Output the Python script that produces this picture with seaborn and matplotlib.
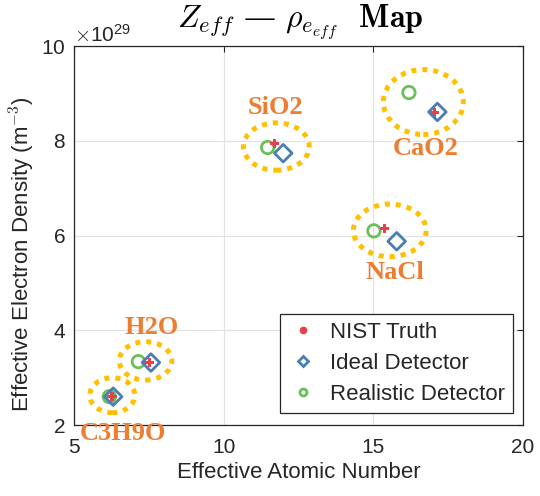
import numpy as np
import pandas as pd
import matplotlib
matplotlib.use("Agg")
import matplotlib.pyplot as plt
from matplotlib.patches import Ellipse
from matplotlib.lines import Line2D
import seaborn as sns

# ---- data (rho in units of 1e29 m^-3) ----
materials = ["C3H9O", "H2O", "SiO2", "CaO2", "NaCl"]
nist_z = [6.27, 7.51, 11.69, 17.03, 15.37]
nist_rho = [2.60, 3.32, 7.95, 8.59, 6.15]
ideal_z = [6.31, 7.57, 11.99, 17.14, 15.78]
ideal_rho = [2.60, 3.32, 7.74, 8.61, 5.88]
real_z = [6.18, 7.15, 11.47, 16.19, 15.02]
real_rho = [2.60, 3.34, 7.86, 9.02, 6.10]
scale = 1e29

# highlight ellipses: center z, center rho, width (z), height (rho)
ell_z = [6.28, 7.39, 11.76, 16.67, 15.55]
ell_rho = [2.63, 3.355, 7.88, 8.82, 6.11]
ell_w = [1.5, 1.75, 2.2, 2.67, 2.43]
ell_h = [0.74, 0.81, 1.0, 1.37, 1.11]

# label positions
lab_z = [6.62, 7.60, 11.74, 16.74, 15.72]
lab_rho = [1.82, 4.06, 8.70, 7.84, 5.23]

sns.set_theme(style="whitegrid")
plt.rcParams["font.family"] = ["Liberation Sans", "DejaVu Sans"]
plt.rcParams["mathtext.fontset"] = "cm"

fig = plt.figure(figsize=(5.4, 4.96), dpi=100)
ax = fig.add_axes([0.137, 0.143, 0.8315, 0.764])

df_n = pd.DataFrame({"z": nist_z, "rho": np.array(nist_rho) * scale})
df_i = pd.DataFrame({"z": ideal_z, "rho": np.array(ideal_rho) * scale})
df_r = pd.DataFrame({"z": real_z, "rho": np.array(real_rho) * scale})

gold = "#FFC000"
orange = "#ED7D31"
red = "#E8404A"
blue = "#4A7EB0"
green = "#6BBF59"
dark = "#262626"

for cz, cr, w, h in zip(ell_z, ell_rho, ell_w, ell_h):
    e = Ellipse((cz, cr * scale), w, h * scale, fill=False, edgecolor=gold,
                linewidth=3.6, linestyle=(0, (1, 1.2)), zorder=2)
    ax.add_patch(e)

sns.scatterplot(data=df_r, x="z", y="rho", ax=ax, marker="o", s=80,
                facecolor="none", edgecolor=green, linewidth=2, zorder=4)
sns.scatterplot(data=df_n, x="z", y="rho", ax=ax, marker="P", s=45,
                color=red, edgecolor="none", linewidth=0, zorder=5)
sns.scatterplot(data=df_i, x="z", y="rho", ax=ax, marker="D", s=80,
                facecolor="none", edgecolor=blue, linewidth=2, zorder=6)

for name, lz, lr in zip(materials, lab_z, lab_rho):
    ax.text(lz, lr * scale, name, color=orange, fontsize=19, fontweight="bold",
            family="Liberation Serif", ha="center", va="center", clip_on=False,
            zorder=7)

ax.set_xlim(5, 20)
ax.set_ylim(2 * scale, 10 * scale)
ax.set_xticks([5, 10, 15, 20])
ax.set_yticks(np.array([2, 4, 6, 8, 10]) * scale)
ax.ticklabel_format(axis="y", style="sci", scilimits=(29, 29), useMathText=True)
ax.yaxis.get_offset_text().set_fontsize(15)
ax.yaxis.get_offset_text().set_color(dark)

ax.set_xlabel("Effective Atomic Number", fontsize=16, color=dark, labelpad=4)
ax.set_ylabel("Effective Electron Density (m$^{-3}$)", fontsize=16, color=dark)
ax.yaxis.set_label_coords(-0.082, 0.45)
ax.tick_params(axis="both", labelsize=15, labelcolor=dark, direction="in",
               top=True, right=True, length=4, color=dark, width=0.8)
ax.tick_params(axis="x", pad=9)
ax.tick_params(axis="y", pad=6)
ax.grid(True, color="#E3E3E3", linewidth=0.9)
for sp in ax.spines.values():
    sp.set_color(dark)
    sp.set_linewidth(0.9)

fig.text(300 / 540, 1 - 28 / 496,
         r"$Z_{eff}$ — $\rho_{e_{eff}}$  $\mathbf{Map}$", fontsize=23,
         family="DejaVu Serif", ha="center", va="baseline", color="black")

handles = [
    Line2D([], [], marker="o", color=red, linestyle="none", markersize=4.5),
    Line2D([], [], marker="D", markerfacecolor="none", markeredgecolor=blue,
           markeredgewidth=2, linestyle="none", markersize=5),
    Line2D([], [], marker="o", markerfacecolor="none", markeredgecolor=green,
           markeredgewidth=2, linestyle="none", markersize=5),
]
leg = ax.legend(handles, ["NIST Truth", "Ideal Detector", "Realistic Detector"],
                loc="lower right", bbox_to_anchor=(0.978, 0.032), fontsize=16,
                frameon=True, fancybox=False, framealpha=1, edgecolor=dark,
                handlelength=1.3, handletextpad=0.6, borderpad=0.35,
                labelspacing=0.45, borderaxespad=0)
leg.get_frame().set_linewidth(0.9)

fig.savefig("out.png", dpi=100)
